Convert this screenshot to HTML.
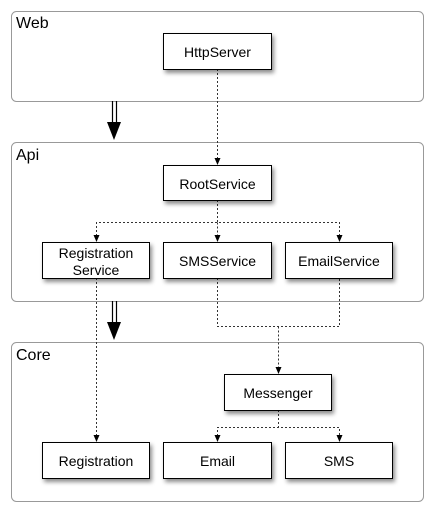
<!DOCTYPE html>
<html><head><style>
body{margin:0;background:#fff;width:434px;height:512px;overflow:hidden;font-family:"Liberation Sans",sans-serif}
</style></head><body>
<svg width="434" height="512" xmlns="http://www.w3.org/2000/svg" font-family="Liberation Sans, sans-serif">
<defs>
<filter id="sh" x="-20%" y="-20%" width="150%" height="160%"><feDropShadow dx="2" dy="3" stdDeviation="2" flood-color="#000" flood-opacity="0.45"/></filter>
</defs>
<g fill="#fff" stroke="#999" stroke-width="1">
<rect x="11.5" y="11.5" width="412" height="90" rx="5"/>
<rect x="11.5" y="142.5" width="412" height="159" rx="5"/>
<rect x="11.5" y="342.5" width="412" height="159" rx="5"/>
</g>
<g font-size="16" fill="#000">
<text x="16" y="28">Web</text>
<text x="16" y="160">Api</text>
<text x="16" y="360">Core</text>
</g>
<g stroke="#333" stroke-width="1" stroke-dasharray="2,2" fill="none">
<path d="M217.5 69 V159"/>
<path d="M217.5 200 V222.5 M96.5 236 V222.5 H339.5 V236 M217.5 222.5 V236"/>
<path d="M217.5 278 V326.5 H339.5 V278 M278.5 326.5 V368"/>
<path d="M278.5 410 V427.5 M217.5 436 V427.5 H339.5 V436"/>
<path d="M96.5 278 V436"/>
</g>
<g fill="#000">
<path d="M93.5,235 L99.5,235 L96.5,242z"/><path d="M214.5,235 L220.5,235 L217.5,242z"/><path d="M336.5,235 L342.5,235 L339.5,242z"/>
<path d="M214.5,158 L220.5,158 L217.5,165z"/><path d="M275.5,367 L281.5,367 L278.5,374z"/>
<path d="M93.5,435 L99.5,435 L96.5,442z"/><path d="M214.5,435 L220.5,435 L217.5,442z"/><path d="M336.5,435 L342.5,435 L339.5,442z"/>
</g>
<g stroke="#000" stroke-width="1.2">
<path d="M112.5 101 V123 M116.5 101 V123"/>
<path d="M112.5 301 V323 M116.5 301 V323"/>
</g>
<g fill="#000"><path d="M107 122 L121 122 L114 140z"/><path d="M107 322 L121 322 L114 340z"/></g>
<g fill="#fff" stroke="#000" stroke-width="1" filter="url(#sh)">
<rect x="163.5" y="33.5" width="108" height="36"/>
<rect x="163.5" y="165.5" width="108" height="35"/>
<rect x="42.5" y="242.5" width="107" height="36"/>
<rect x="163.5" y="242.5" width="108" height="36"/>
<rect x="285.5" y="242.5" width="107" height="36"/>
<rect x="224.5" y="374.5" width="107" height="36"/>
<rect x="42.5" y="442.5" width="107" height="36"/>
<rect x="163.5" y="442.5" width="108" height="36"/>
<rect x="285.5" y="442.5" width="107" height="36"/>
</g>
<g font-size="14" fill="#000" text-anchor="middle">
<text x="217.5" y="57">HttpServer</text>
<text x="217.5" y="189">RootService</text>
<text x="96" y="258">Registration</text>
<text x="96" y="275">Service</text>
<text x="217.5" y="266">SMSService</text>
<text x="339" y="266">EmailService</text>
<text x="278" y="398">Messenger</text>
<text x="96" y="466">Registration</text>
<text x="217.5" y="466">Email</text>
<text x="339" y="466">SMS</text>
</g>
</svg>
</body></html>
